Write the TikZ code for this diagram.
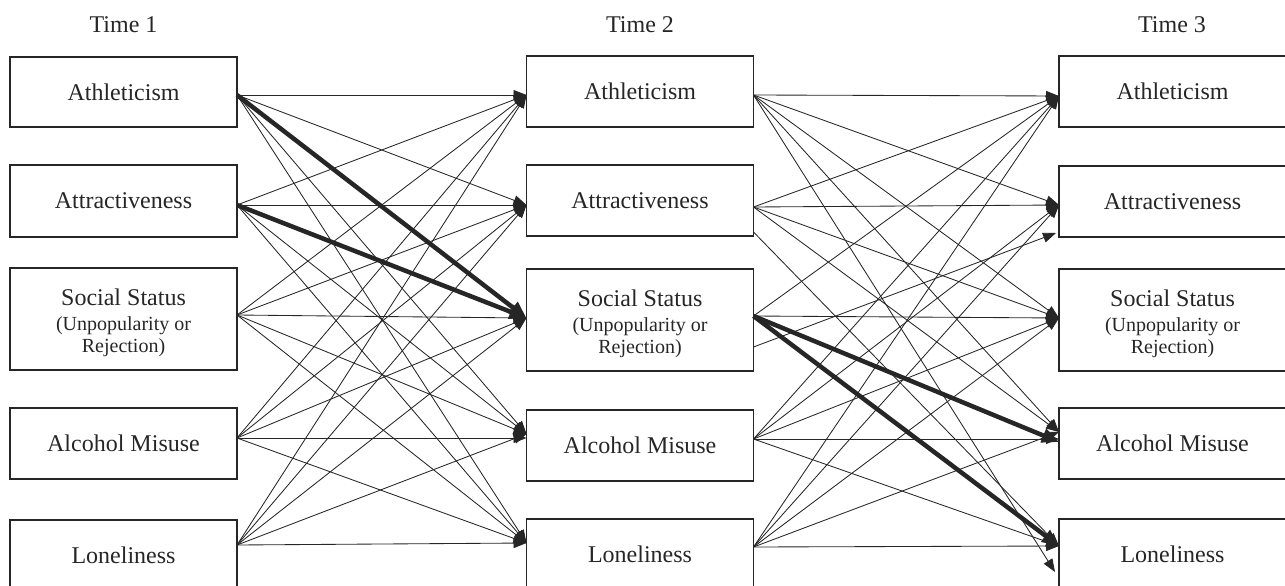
\documentclass[tikz,border=0pt]{standalone}
\usepackage{fontspec}
\setmainfont{Liberation Serif}
\usetikzlibrary{arrows.meta}
\definecolor{ink}{HTML}{262626}
\begin{document}
\begin{tikzpicture}[x=1pt,y=-1pt,
  box/.style={draw=ink, line width=1.6pt, minimum width=227pt, inner sep=0pt, outer sep=0pt,
              font=\fontsize{24}{28}\selectfont, text=ink},
  lbl/.style={font=\fontsize{24}{28}\selectfont, inner sep=0pt, anchor=base, text=ink},
  sub/.style={font=\fontsize{20}{24}\selectfont, inner sep=0pt, anchor=base, text=ink},
  lnk/.style={draw=ink, line width=0.85pt, -{Triangle[length=13pt,width=10pt]}},
  hvy/.style={draw=ink, line width=4.5pt, -{Triangle[length=17pt,width=14pt]}}]
\useasboundingbox (0,0) rectangle (1285,586);
\clip (0,0) rectangle (1285,586);

% titles
\node[lbl] (t1) at (123.5,33) {Time 1};
\node[lbl] (t2) at (640,33) {Time 2};
\node[lbl] (t3) at (1172,33) {Time 3};

% Time 1 boxes
\node[box, minimum height=70pt]  (a1) at (123.5,92) {Athleticism};
\node[box, minimum height=72pt]  (a2) at (123.5,201) {Attractiveness};
\node[box, minimum height=102pt] (a3) at (123.5,319) {};
\node[box, minimum height=71pt]  (a4) at (123.5,443.5) {Alcohol Misuse};
\node[box, minimum height=70pt]  (a5) at (123.5,555) {Loneliness};
% Time 2 boxes
\node[box, minimum height=71pt]  (b1) at (640,91.5) {Athleticism};
\node[box, minimum height=71pt]  (b2) at (640,200.5) {Attractiveness};
\node[box, minimum height=102pt] (b3) at (640,320) {};
\node[box, minimum height=71pt]  (b4) at (640,445.5) {Alcohol Misuse};
\node[box, minimum height=70pt]  (b5) at (640,554) {Loneliness};
% Time 3 boxes
\node[box, minimum height=71pt]  (c1) at (1172.5,91.5) {Athleticism};
\node[box, minimum height=71pt]  (c2) at (1172.5,201.5) {Attractiveness};
\node[box, minimum height=102pt] (c3) at (1172.5,320) {};
\node[box, minimum height=71pt]  (c4) at (1172.5,443.5) {Alcohol Misuse};
\node[box, minimum height=70pt]  (c5) at (1172.5,554) {Loneliness};

% Social status texts
\node[lbl] (a3x) at (123.5,305) {Social Status};
\node[sub] (a3y) at (123.5,330) {(Unpopularity or};
\node[sub] (a3z) at (123.5,352) {Rejection)};
\node[lbl] (b3x) at (640,306) {Social Status};
\node[sub] (b3y) at (640,331) {(Unpopularity or};
\node[sub] (b3z) at (640,353) {Rejection)};
\node[lbl] (c3x) at (1172.5,306) {Social Status};
\node[sub] (c3y) at (1172.5,331) {(Unpopularity or};
\node[sub] (c3z) at (1172.5,353) {Rejection)};

% ports
\foreach \n/\dy in {a1/3,a2/4,a3/-4,a4/-5.5,a5/-10}
  \path (\n.east) ++(0,\dy) coordinate (\n-o);
\foreach \n/\dy in {b1/3.5,b2/4.5,b3/-2,b4/-11.5,b5/-11}
  \path (\n.west) ++(0,\dy) coordinate (\n-i);
\path (b4.west) ++(0,-7.5) coordinate (b4-h);
\foreach \n/\dy in {b1/3.5,b2/6.5,b3/-4,b4/-6.5,b5/-7}
  \path (\n.east) ++(0,\dy) coordinate (\n-o);
\path (b2.east) ++(0,31.5) coordinate (b2-l);
\path (b3.east) ++(0,27) coordinate (b3-l);
\foreach \n/\dy in {c1/4.5,c2/3.5,c3/-2,c4/-11.5,c5/-8}
  \path (\n.west) ++(0,\dy) coordinate (\n-i);
\path (c2.west) ++(-3,31.5) coordinate (c2-l);
\path (c4.west) ++(0,-1.5) coordinate (c4-k);
\path (c4.west) ++(0,-4.5) coordinate (c4-h);
\path (c5.west) ++(-4,18) coordinate (c5-l);

% Time 1 -> Time 2
\foreach \i/\j in {1/1,1/2,1/4,1/5,2/1,2/2,2/4,2/5,3/1,3/2,3/3,3/4,3/5,
                   4/1,4/2,4/3,4/5,5/1,5/2,5/3,5/4,5/5}
  \draw[lnk] (a\i-o) -- (b\j-i);
\draw[lnk] (a4-o) -- (b4-h);
\draw[hvy] (a1-o) -- (b3-i);
\draw[hvy] (a2-o) -- (b3-i);

% Time 2 -> Time 3
\foreach \i/\j in {1/1,1/2,1/3,1/4,2/1,2/2,2/3,2/4,3/1,3/3,
                   4/1,4/2,4/3,4/5,5/1,5/2,5/3,5/4,5/5}
  \draw[lnk] (b\i-o) -- (c\j-i);
\draw[lnk] (b1-o) -- (c5-l);
\draw[lnk] (b2-l) -- (c5-i);
\draw[lnk] (b3-l) -- (c2-l);
\draw[lnk] (b4-o) -- (c4-h);
\draw[hvy] (b3-o) -- (c4-k);
\draw[hvy] (b3-o) -- (c5-i);
\end{tikzpicture}
\end{document}
